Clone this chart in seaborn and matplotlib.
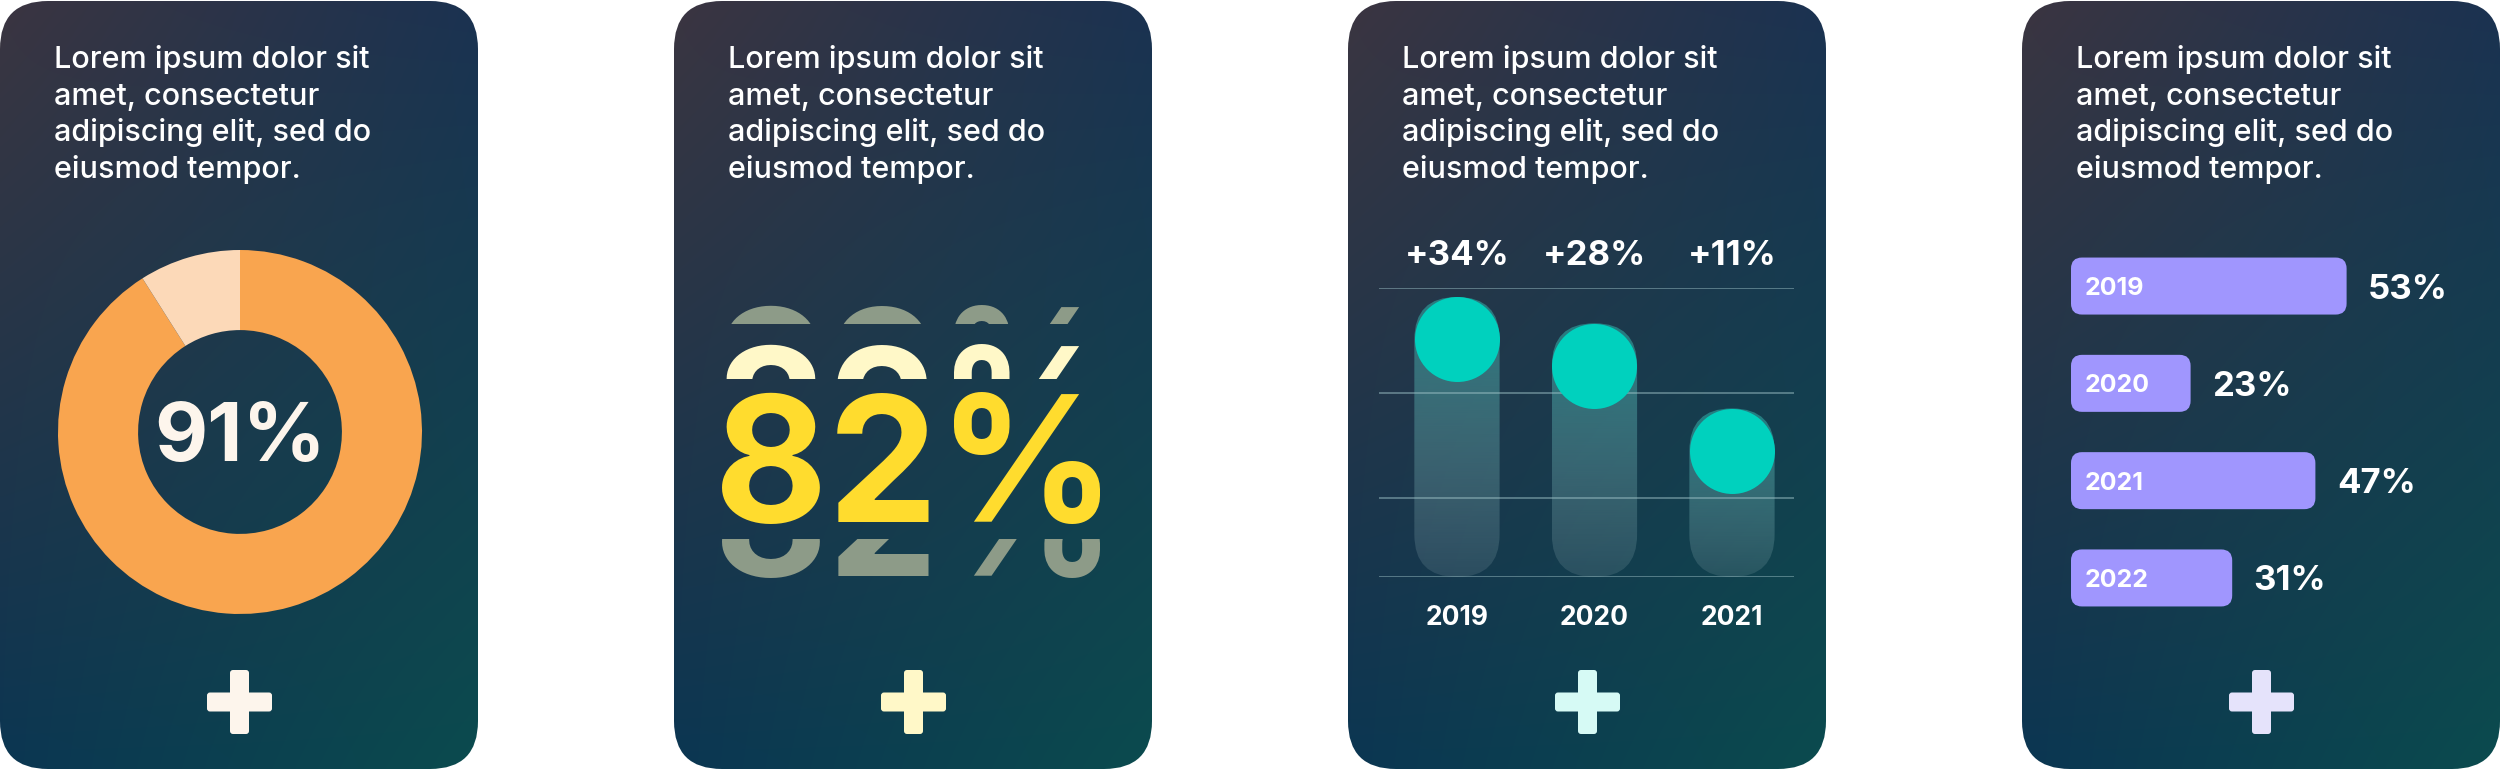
import numpy as np
import pandas as pd
import matplotlib.pyplot as plt
import seaborn as sns
from matplotlib.patches import FancyBboxPatch
from matplotlib.transforms import Bbox
from matplotlib.colors import to_rgb

# ---- data ----
blurb_lines = ["Lorem ipsum dolor sit", "amet, consectetur",
               "adipiscing elit, sed do", "eiusmod tempor."]

donut_labels = ["done", "rest"]
donut_values = [91, 9]

big_value = 82

growth_years = ["2019", "2020", "2021"]
growth_pct = [34, 28, 11]
growth_level = [22.6, 20.1, 12.0]   # height of the dots on the card's own scale
grid_levels = [0, 7.5, 17.5, 27.5]

share_years = ["2019", "2020", "2021", "2022"]
share_pct = [53, 23, 47, 31]

# ---- setup ----
W, H = 2500, 770
sns.set_theme(style="white")
plt.rcParams['font.family'] = ['Inter', 'DejaVu Sans']

fig = plt.figure(figsize=(W / 100, H / 100), dpi=100)
fig.patch.set_facecolor('white')


def px_axes(x0, y0, x1, y1):
    ax = fig.add_axes([x0 / W, 1 - y1 / H, (x1 - x0) / W, (y1 - y0) / H])
    ax.set_facecolor('none')
    return ax


base = px_axes(0, 0, W, H)
base.axis('off')


def to_px(ax, pts):
    return base.transData.inverted().transform(ax.transData.transform(pts))


# ---- cards with a corner gradient ----
card_w = 478
card_left = [0, 674, 1348, 2022]
tl, tr, bl, br = [np.array(to_rgb(c)) for c in ('#3B3541', '#1B3251', '#0B3652', '#0B4B4E')]
U, V = np.meshgrid(np.linspace(0, 1, 200), np.linspace(0, 1, 200))
U, V = U[..., None], V[..., None]
grad = (1 - U) * (1 - V) * tl + U * (1 - V) * tr + (1 - U) * V * bl + U * V * br

for x0 in card_left:
    card = FancyBboxPatch((x0, 1), card_w, H - 2, boxstyle="round,pad=0,rounding_size=48",
                          fc='none', ec='none')
    base.add_patch(card)
    im = base.imshow(grad, extent=(x0, x0 + card_w, H - 1, 1), interpolation='bilinear', zorder=0)
    im.set_clip_path(card)

base.set_xlim(0, W)
base.set_ylim(H, 0)
base.set_aspect('auto')

# ---- card 1: donut ----
ax_d = px_axes(58, 250, 422, 614)
ax_d.pie(donut_values, colors=['#F9A54F', '#FCD9B8'], startangle=90, counterclock=False,
         wedgeprops=dict(width=0.44, linewidth=0))
ax_d.set_xlim(-1, 1)
ax_d.set_ylim(-1, 1)
ax_d.set_aspect('equal')

# ---- card 3: dots on pills ----
ax_g = px_axes(1379, 288, 1794, 577)
df_g = pd.DataFrame({'year': growth_years, 'level': growth_level})
sns.barplot(data=df_g, x='year', y='level', ax=ax_g, width=0.62, color='#1F7F80')
for g in grid_levels:
    ax_g.axhline(g, color='#9FC3C8', alpha=0.6, lw=1.1, zorder=1)
ax_g.set_xlim(-0.567, 2.451)
ax_g.set_ylim(0, 27.5)

r = 42.5
for bar in list(ax_g.patches):
    (bx0, by0), (bx1, by1) = to_px(ax_g, [[bar.get_x(), bar.get_height()],
                                          [bar.get_x() + bar.get_width(), 0]])
    bar.remove()
    pill = FancyBboxPatch((bx0, by0 - r), bx1 - bx0, by1 - by0 + r,
                          boxstyle=f"round,pad=0,rounding_size={r}", fc='none', ec='none')
    base.add_patch(pill)
    t = np.linspace(0, 1, 100)[:, None, None]
    top_c, bot_c = np.array(to_rgb('#2EB5AE')), np.array(to_rgb('#B9CDD2'))
    rgb = (1 - t) * top_c + t * bot_c
    alpha = (1 - t) * 0.55 + t * 0.14
    rgba = np.concatenate([rgb, alpha], axis=2).repeat(4, axis=1)
    pim = base.imshow(rgba, extent=(bx0, bx1, by1, by0 - r), interpolation='bilinear', zorder=2)
    pim.set_clip_path(pill)
base.set_xlim(0, W)
base.set_ylim(H, 0)
base.set_aspect('auto')

sns.scatterplot(data=df_g, x='year', y='level', ax=ax_g, s=(2 * r * 0.72) ** 2,
                color='#00D1BE', linewidth=0, zorder=5, clip_on=False)
for i, p in enumerate(growth_pct):
    ax_g.annotate(f"+{p}%", xy=(i, 1), xycoords=('data', 'axes fraction'),
                  xytext=(0, 16.5), textcoords='offset points', ha='center', va='baseline',
                  fontsize=25, fontweight='bold', color='white')
ax_g.tick_params(axis='x', length=0, pad=20, labelsize=19, labelcolor='white')
plt.setp(ax_g.get_xticklabels(), fontweight='bold')
ax_g.set_yticks([])
ax_g.set_xlabel('')
ax_g.set_ylabel('')
sns.despine(ax=ax_g, left=True, bottom=True)

# ---- card 4: horizontal bars ----
ax_b = px_axes(2071, 237.4, 2471, 626.6)
df_b = pd.DataFrame({'year': share_years, 'pct': share_pct})
sns.barplot(data=df_b, x='pct', y='year', orient='h', ax=ax_b, width=0.586, color='#A096FE')
ax_b.set_xlim(0, 400 / 5.2)
for bar in list(ax_b.patches):
    (bx0, by0), (bx1, by1) = to_px(ax_b, [[bar.get_x(), bar.get_y()],
                                          [bar.get_x() + bar.get_width(), bar.get_y() + bar.get_height()]])
    bar.remove()
    base.add_patch(FancyBboxPatch((bx0, min(by0, by1)), bx1 - bx0, abs(by1 - by0),
                                  boxstyle="round,pad=0,rounding_size=11",
                                  fc='#A096FE', ec='none', zorder=2))
for i, (yr, v) in enumerate(zip(share_years, share_pct)):
    ax_b.annotate(yr, xy=(0, i), xytext=(10, -6.5), textcoords='offset points',
                  ha='left', va='baseline', fontsize=18, fontweight='bold', color='white')
    ax_b.annotate(f"{v}%", xy=(v, i), xytext=(15.5, -9), textcoords='offset points',
                  ha='left', va='baseline', fontsize=25, fontweight='bold', color='white')
ax_b.set_xticks([])
ax_b.set_yticks([])
ax_b.set_xlabel('')
ax_b.set_ylabel('')
sns.despine(ax=ax_b, left=True, bottom=True)

# ---- top layer: text and plus signs ----
ink = px_axes(0, 0, W, H)
ink.set_xlim(0, W)
ink.set_ylim(H, 0)
ink.axis('off')

for x0 in card_left:
    for i, line in enumerate(blurb_lines):
        ink.text(x0 + 54, 68 + i * 36.7, line, color='white', fontsize=22, fontweight='medium',
                 ha='left', va='baseline')

ink.text(240, 461, f"{donut_values[0]}%", color='#FDF5EC', fontsize=59,
         fontweight='bold', ha='center', va='baseline')

# card 2: big number with clipped echoes
big = f"{big_value}%"
layers = [(435, '#8D9B88', (300, 324)), (474, '#FFF8C8', (340, 379)),
          (522, '#FFDC2E', None), (576, '#8D9B88', (539, 600))]
for base_y, col, clip in layers:
    t = ink.text(915, base_y, big, fontsize=126, fontweight='bold', color=col,
                 ha='center', va='baseline')
    if clip:
        p = ink.transData.transform([[674, clip[0]], [1152, clip[1]]])
        t.set_clip_box(Bbox.from_extents(p[:, 0].min(), p[:, 1].min(), p[:, 0].max(), p[:, 1].max()))
        t.set_clip_on(True)

plus_colors = ['#FDF5EC', '#FFF8C8', '#D6FAF5', '#E5E3FB']
for x0, col in zip(card_left, plus_colors):
    cx, cy = x0 + 239.5, 702
    ink.add_patch(FancyBboxPatch((cx - 32.5, cy - 9.5), 65, 19, boxstyle="round,pad=0,rounding_size=3",
                                 fc=col, ec='none'))
    ink.add_patch(FancyBboxPatch((cx - 9.5, cy - 32), 19, 64, boxstyle="round,pad=0,rounding_size=3",
                                 fc=col, ec='none'))

fig.savefig('out.png', dpi=100, facecolor='white')
